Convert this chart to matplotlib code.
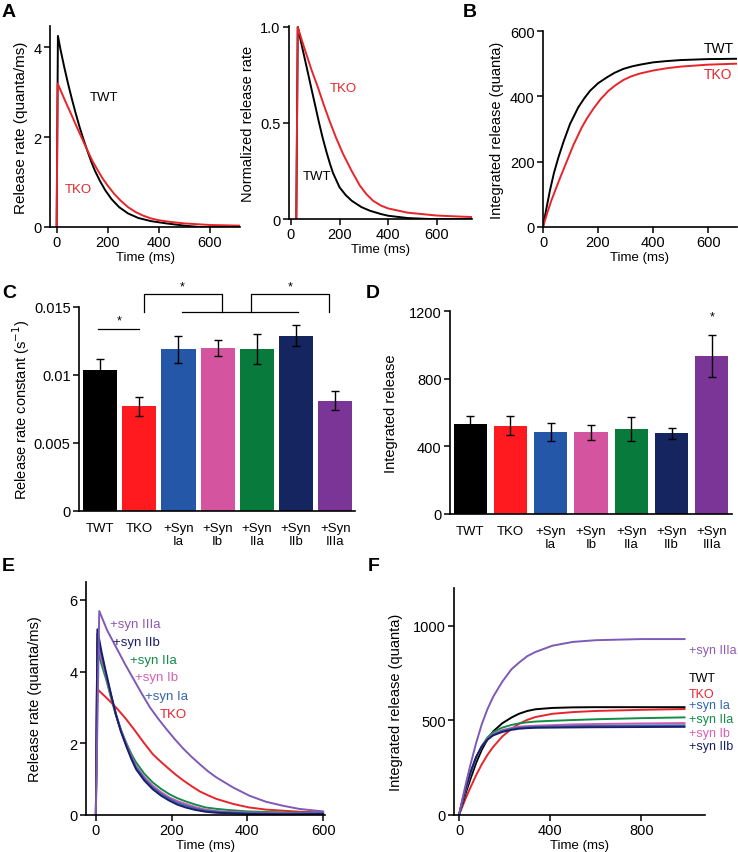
import matplotlib
matplotlib.use('Agg')
import matplotlib.pyplot as plt

plt.rcParams['font.family'] = ['Liberation Sans', 'DejaVu Sans']
plt.rcParams['font.size'] = 10
plt.rcParams['lines.solid_joinstyle'] = 'round'

# ---- panel A (left): release rate, quanta/ms
a_t_twt = [0, 5, 15, 30, 45, 60, 75, 90, 105, 120, 135, 150, 170, 190, 215, 245, 280, 320, 370, 430, 500, 560, 718]
a_twt = [0, 4.25, 3.95, 3.55, 3.18, 2.84, 2.52, 2.22, 1.95, 1.70, 1.46, 1.25, 1.02, 0.82, 0.62, 0.44,
         0.30, 0.20, 0.13, 0.08, 0.03, 0.0, 0.0]
a_t_tko = [0, 4, 20, 40, 60, 80, 100, 120, 140, 160, 180, 200, 225, 250, 280, 310, 340, 370, 400, 450, 500, 600, 718]
a_tko = [0, 3.19, 2.98, 2.72, 2.47, 2.21, 1.96, 1.71, 1.47, 1.27, 1.08, 0.92, 0.74, 0.59, 0.44, 0.33,
         0.25, 0.19, 0.15, 0.11, 0.08, 0.045, 0.03]

# ---- panel A (right): normalized release rate
n_t_twt = [22, 28, 40, 55, 70, 84, 100, 114, 130, 146, 160, 173, 200, 225, 250, 290, 325, 370, 400, 480, 570, 745]
n_twt = [0, 1.0, 0.93, 0.845, 0.76, 0.68, 0.59, 0.51, 0.425, 0.35, 0.29, 0.24, 0.165, 0.125, 0.095,
         0.062, 0.043, 0.026, 0.017, 0.005, 0, 0]
n_t_tko = [22, 28, 45, 63, 85, 111, 135, 159, 185, 214, 250, 283, 310, 338, 370, 400, 480, 600, 745]
n_tko = [0, 1.0, 0.93, 0.86, 0.775, 0.685, 0.595, 0.51, 0.425, 0.34, 0.25, 0.175, 0.13, 0.095, 0.07,
         0.055, 0.033, 0.018, 0.01]

# ---- panel B: integrated release
b_t_twt = [0, 12, 25, 40, 56, 75, 98, 128, 150, 171, 200, 232, 260, 292, 325, 353, 400, 450, 500, 600, 705]
b_twt = [0, 55, 111, 166, 213, 262, 315, 366, 394, 417, 440, 458, 472, 484, 492, 497, 504, 508, 511, 514, 515]
b_t_tko = [0, 15, 30, 44, 60, 86, 110, 141, 160, 183, 210, 238, 265, 292, 320, 353, 400, 450, 500, 600, 705]
b_tko = [0, 42, 80, 111, 146, 200, 250, 305, 333, 362, 392, 417, 435, 450, 461, 470, 479, 486, 491, 497, 500]

# ---- panels C / D: bars
groups = ['TWT', 'TKO', '+Syn\nIa', '+Syn\nIb', '+Syn\nIIa', '+Syn\nIIb', '+Syn\nIIIa']
bar_colors = ['#000000', '#FF1A1F', '#2457A8', '#D4549F', '#087A3C', '#14255F', '#7B3596']
k_mean = [0.0104, 0.0077, 0.0119, 0.0120, 0.0119, 0.0129, 0.0081]
k_err = [0.0008, 0.0007, 0.0010, 0.0006, 0.0011, 0.0008, 0.0007]
rel_mean = [531, 523, 485, 483, 503, 478, 934]
rel_err = [50, 55, 55, 44, 71, 33, 125]

# ---- panel E: release rate of rescue constructs
e_t_tko = [0, 4, 30, 55, 78, 100, 125, 150, 168, 186, 208, 230, 252, 274, 296, 318, 362, 405, 450, 540, 600]
e_tko = [0, 3.51, 3.25, 2.98, 2.70, 2.40, 2.04, 1.70, 1.52, 1.35, 1.15, 0.97, 0.81, 0.66, 0.55, 0.45,
         0.31, 0.21, 0.15, 0.09, 0.07]
e_t_3a = [0, 9, 30, 55, 77, 99, 121, 143, 165, 186, 208, 230, 252, 274, 296, 318, 362, 405, 449, 493, 537, 600]
e_3a = [0, 5.69, 5.15, 4.65, 4.21, 3.80, 3.39, 3.00, 2.68, 2.40, 2.12, 1.86, 1.63, 1.42, 1.22, 1.05,
        0.77, 0.54, 0.37, 0.26, 0.17, 0.10]
e_t_cl = [0, 4, 15, 27, 40, 53, 66, 80, 93, 106, 128, 150, 172, 194, 215, 237, 263, 290, 320, 350, 400, 500, 600]
e_2b = [0, 5.18, 4.55, 3.97, 3.37, 2.80, 2.33, 1.93, 1.58, 1.28, 0.96, 0.72, 0.54, 0.40, 0.29, 0.21,
        0.14, 0.09, 0.06, 0.05, 0.03, 0.02, 0.03]
e_1a = [0, 5.05, 4.47, 3.93, 3.35, 2.82, 2.36, 1.95, 1.62, 1.33, 1.01, 0.77, 0.59, 0.45, 0.34, 0.26,
        0.18, 0.12, 0.09, 0.07, 0.05, 0.04, 0.05]
e_1b = [0, 4.85, 4.35, 3.88, 3.32, 2.82, 2.38, 1.98, 1.66, 1.37, 1.06, 0.82, 0.64, 0.49, 0.39, 0.31,
        0.22, 0.15, 0.11, 0.09, 0.07, 0.05, 0.05]
e_2a = [0, 4.62, 4.20, 3.79, 3.27, 2.78, 2.38, 2.02, 1.72, 1.47, 1.15, 0.91, 0.73, 0.58, 0.47, 0.38,
        0.29, 0.21, 0.17, 0.14, 0.10, 0.07, 0.06]

# ---- panel F: integrated release of rescue constructs
f_t = [0, 15, 30, 50, 75, 100, 125, 150, 190, 230, 263, 300, 336, 410, 500, 600, 800, 990]
f_3a = [0, 85, 165, 265, 380, 480, 560, 625, 705, 770, 805, 840, 862, 895, 915, 924, 930, 930]
f_twt = [0, 60, 118, 190, 275, 345, 400, 442, 485, 515, 535, 550, 559, 566, 569, 570, 570, 570]
f_tko = [0, 45, 90, 145, 210, 268, 318, 360, 415, 455, 482, 503, 518, 535, 544, 550, 556, 560]
f_2a = [0, 70, 135, 215, 300, 365, 410, 438, 462, 476, 484, 490, 494, 498, 502, 506, 512, 516]
f_1b = [0, 72, 140, 220, 303, 363, 403, 428, 449, 460, 467, 470, 472, 475, 479, 481, 484, 486]
f_1a = [0, 74, 142, 222, 305, 362, 400, 424, 444, 455, 461, 464, 466, 468, 470, 471, 473, 474]
f_2b = [0, 76, 145, 225, 307, 362, 398, 421, 439, 450, 456, 459, 461, 462, 463, 464, 465, 466]

RED = '#E8242B'
C3A = '#7D5AB5'
NAVY = '#1B1F68'
BLUE = '#3565B0'
PINK = '#CF5BAE'
GREEN = '#138C47'
LW = 1.4

W, H = 738, 853
fig = plt.figure(figsize=(W / 100, H / 100), dpi=100)


def box(l, r, t, b):
    return [l / W, 1 - b / H, (r - l) / W, (b - t) / H]


def style(ax):
    for s in ['top', 'right']:
        ax.spines[s].set_visible(False)
    for s in ['left', 'bottom']:
        ax.spines[s].set_linewidth(1.2)
    ax.tick_params(direction='out', length=4, width=1.1, labelsize=10.5, pad=2)


# A left
ax = fig.add_axes(box(50, 240, 27, 228))
style(ax)
ax.plot(a_t_twt, a_twt, color='black', lw=LW)
ax.plot(a_t_tko, a_tko, color=RED, lw=LW)
ax.set_xlim(-26, 718)
ax.set_ylim(0, 4.47)
ax.set_xticks([0, 200, 400, 600])
ax.set_yticks([0, 2, 4])
ax.set_xlabel('Time (ms)', fontsize=9.5, labelpad=1)
ax.set_ylabel('Release rate (quanta/ms)', fontsize=11, labelpad=4)
ax.text(130, 2.9, 'TWT', fontsize=9.5, color='black', va='center')
ax.text(32, 0.85, 'TKO', fontsize=9.5, color=RED, va='center')

# A right
ax = fig.add_axes(box(289, 472, 27, 220))
style(ax)
ax.plot(n_t_twt, n_twt, color='black', lw=LW)
ax.plot(n_t_tko, n_tko, color=RED, lw=LW)
ax.set_xlim(-8, 745)
ax.set_ylim(0, 1.005)
ax.set_xticks([0, 200, 400, 600])
ax.set_yticks([0, 0.5, 1.0])
ax.set_yticklabels(['0', '0.5', '1.0'])
ax.set_xlabel('Time (ms)', fontsize=9.5, labelpad=1)
ax.set_ylabel('Normalized release rate', fontsize=10.5, labelpad=4)
ax.text(161, 0.68, 'TKO', fontsize=9.5, color=RED, va='center')
ax.text(50, 0.225, 'TWT', fontsize=9.5, color='black', va='center')

# B
ax = fig.add_axes(box(543, 737, 32, 228))
style(ax)
ax.plot(b_t_twt, b_twt, color='black', lw=LW)
ax.plot(b_t_tko, b_tko, color=RED, lw=LW)
ax.set_xlim(0, 705)
ax.set_ylim(0, 600)
ax.set_xticks([0, 200, 400, 600])
ax.set_yticks([0, 200, 400, 600])
ax.set_xlabel('Time (ms)', fontsize=9.5, labelpad=1)
ax.set_ylabel('Integrated release (quanta)', fontsize=10.5, labelpad=4)
ax.text(585, 548, 'TWT', fontsize=10, color='black', va='center')
ax.text(585, 468, 'TKO', fontsize=10, color=RED, va='center')

# C
xs = list(range(len(groups)))
ax = fig.add_axes(box(79, 355, 308, 512))
style(ax)
ax.bar(xs, k_mean, width=0.87, color=bar_colors)
ax.errorbar(xs, k_mean, yerr=k_err, fmt='none', ecolor='black', elinewidth=1, capsize=3, capthick=1)
ax.set_xlim(-0.535, 6.5)
ax.set_ylim(0, 0.015)
ax.set_yticks([0, 0.005, 0.01, 0.015])
ax.set_yticklabels(['0', '0.005', '0.01', '0.015'])
ax.set_xticks(xs)
ax.set_xticklabels(groups, fontsize=9.5, linespacing=1.05)
ax.tick_params(axis='x', length=0, pad=8)
ax.set_ylabel('Release rate constant (s$^{-1}$)', fontsize=10.5, labelpad=1)
kw = dict(color='black', lw=0.9, clip_on=False)
ax.plot([-0.05, 0.99], [0.01338, 0.01338], **kw)
ax.text(0.48, 0.0136, '*', ha='center', va='bottom', fontsize=9)
ax.plot([1.12, 1.12, 3.1, 3.1], [0.01463, 0.01596, 0.01596, 0.01463], **kw)
ax.plot([2.09, 5.04], [0.01463, 0.01463], **kw)
ax.plot([3.85, 3.85, 5.83, 5.83], [0.01463, 0.01596, 0.01596, 0.01463], **kw)
ax.text(2.1, 0.01605, '*', ha='center', va='bottom', fontsize=9, clip_on=False)
ax.text(4.84, 0.01605, '*', ha='center', va='bottom', fontsize=9, clip_on=False)

# D
ax = fig.add_axes(box(450, 732, 312, 515))
style(ax)
ax.bar(xs, rel_mean, width=0.82, color=bar_colors)
ax.errorbar(xs, rel_mean, yerr=rel_err, fmt='none', ecolor='black', elinewidth=1, capsize=3, capthick=1)
ax.set_xlim(-0.5, 6.5)
ax.set_ylim(0, 1200)
ax.set_yticks([0, 400, 800, 1200])
ax.set_xticks(xs)
ax.set_xticklabels(groups, fontsize=9.5, linespacing=1.05)
ax.tick_params(axis='x', length=0, pad=8)
ax.set_ylabel('Integrated release', fontsize=10.5, labelpad=8)
ax.text(6, 1130, '*', ha='center', va='bottom', fontsize=9)

# E
ax = fig.add_axes(box(86, 325, 583, 816))
style(ax)
ax.plot(e_t_tko, e_tko, color=RED, lw=LW)
ax.plot(e_t_cl, e_2a, color=GREEN, lw=LW)
ax.plot(e_t_cl, e_1b, color=PINK, lw=LW)
ax.plot(e_t_cl, e_1a, color=BLUE, lw=LW)
ax.plot(e_t_cl, e_2b, color=NAVY, lw=LW)
ax.plot(e_t_3a, e_3a, color=C3A, lw=LW)
ax.set_xlim(-26, 605)
ax.set_ylim(0, 6.5)
ax.set_xticks([0, 200, 400, 600])
ax.set_yticks([0, 2, 4, 6])
ax.set_xlabel('Time (ms)', fontsize=9.5, labelpad=1)
ax.set_ylabel('Release rate (quanta/ms)', fontsize=10.5, labelpad=20)
for t, v, s, c in [(38, 5.32, '+syn IIIa', '#9159B0'), (45, 4.82, '+syn IIb', NAVY),
                   (90, 4.32, '+syn IIa', GREEN), (103, 3.84, '+syn Ib', '#D660B5'),
                   (131, 3.31, '+syn Ia', BLUE), (169, 2.81, 'TKO', RED)]:
    ax.text(t, v, s, color=c, fontsize=9.5, va='center')

# F
ax = fig.add_axes(box(454, 705, 589, 816))
style(ax)
ax.plot(f_t, f_tko, color=RED, lw=LW)
ax.plot(f_t, f_twt, color='black', lw=LW)
ax.plot(f_t, f_2a, color=GREEN, lw=LW)
ax.plot(f_t, f_1b, color=PINK, lw=LW)
ax.plot(f_t, f_1a, color=BLUE, lw=LW)
ax.plot(f_t, f_2b, color=NAVY, lw=LW)
ax.plot(f_t, f_3a, color=C3A, lw=LW)
ax.set_xlim(-22, 1080)
ax.set_ylim(0, 1200)
ax.set_xticks([0, 400, 800])
ax.set_yticks([0, 500, 1000])
ax.set_xlabel('Time (ms)', fontsize=9.5, labelpad=1)
ax.set_ylabel('Integrated release (quanta)', fontsize=10.5, labelpad=7)
for v, s, c in [(873, '+syn IIIa', '#9159B0'), (725, 'TWT', 'black'), (640, 'TKO', RED),
                (582, '+syn Ia', BLUE), (508, '+syn IIa', GREEN), (436, '+syn Ib', '#D660B5'),
                (365, '+syn IIb', NAVY)]:
    ax.text(1010, v, s, color=c, fontsize=9, va='center', clip_on=False)

for x, y, s in [(2, 4, 'A'), (463, 4, 'B'), (2, 285, 'C'), (366, 285, 'D'), (2, 558, 'E'), (368, 558, 'F')]:
    fig.text(x / W, 1 - y / H, s, fontsize=14, fontweight='bold', va='top', ha='left')

fig.savefig('out.png', dpi=100)
